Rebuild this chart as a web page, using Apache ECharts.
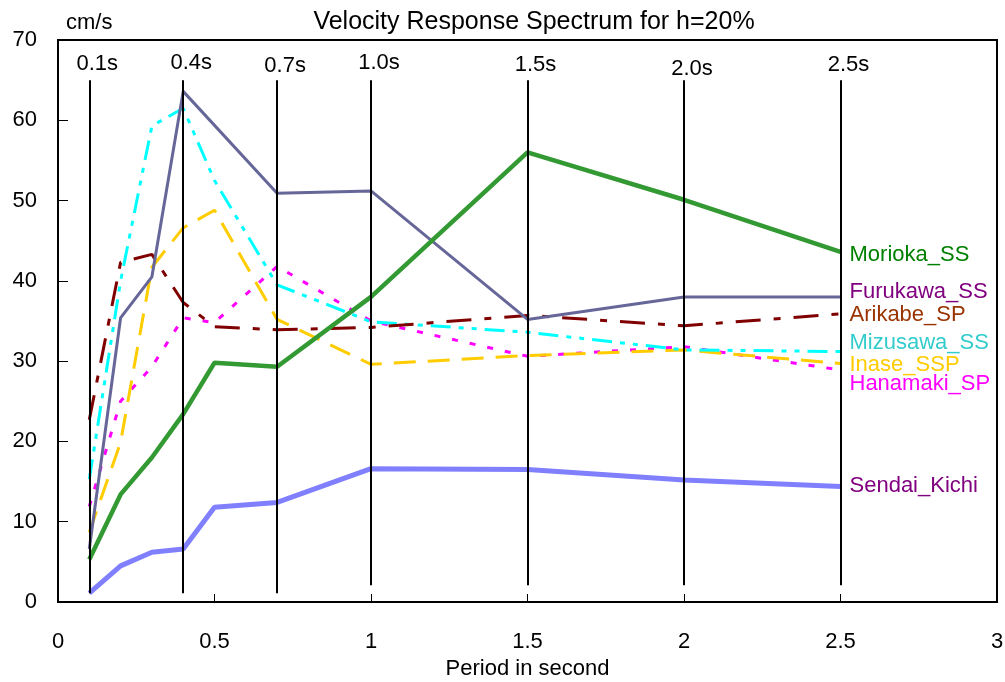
<!DOCTYPE html>
<html>
<head>
<meta charset="utf-8">
<title>Velocity Response Spectrum</title>
<script src="https://cdn.jsdelivr.net/npm/echarts@6/dist/echarts.min.js"></script>
<style>
  html, body { margin: 0; padding: 0; background: #fff; }
  #chart { width: 1005px; height: 682px; }
</style>
</head>
<body>
<div id="chart"></div>
<script>
// periods (s) shared by every station
const periods = [0.1, 0.2, 0.3, 0.4, 0.5, 0.7, 1.0, 1.5, 2.0, 2.5]

const morioka = [5.3, 13.4, 18.0, 23.4, 29.8, 29.3, 38.0, 56.0, 50.1, 43.6]
const furukawa = [6.6, 35.4, 40.5, 63.6, null, 50.9, 51.2, 35.2, 38.0, 38.0]
const arikabe = [22.7, 42.3, 43.3, 37.3, 34.3, 33.9, 34.2, 35.7, 34.4, 35.9]
const mizusawa = [15.3, 40.0, 59.3, 61.5, 52.5, 39.5, 34.9, 33.6, 31.4, 31.2]
const inase = [8.7, 19.9, 41.7, 46.6, 48.8, 35.2, 29.6, 30.7, 31.4, 29.7]
const hanamaki = [11.9, 25.0, 29.3, 35.4, 34.8, 41.8, 35.0, 30.6, 31.8, 28.9]
const sendai = [1.1, 4.5, 6.2, 6.6, 11.8, 12.4, 16.6, 16.5, 15.2, 14.4]

// vertical reference lines
const markPeriods = [0.1, 0.4, 0.7, 1.0, 1.5, 2.0, 2.5]
const markLabels = ['0.1s', '0.4s', '0.7s', '1.0s', '1.5s', '2.0s', '2.5s']
const markBottoms = [1.1, 1.1, 1.1, 2.1, 2.1, 2.1, 2.1]
const markTop = 65

const FONT = '"Liberation Sans", Arial, sans-serif'

const chart = echarts.init(document.getElementById('chart'), null, { renderer: 'canvas' })

function pairs(values) {
  return periods.map((p, i) => [p, values[i]])
}

function createSeries(name, values, color, width, dash, labelColor, labelOffset) {
  return {
    name: name,
    type: 'line',
    data: pairs(values),
    connectNulls: true,
    symbol: 'none',
    lineStyle: { color: color, width: width, type: dash },
    endLabel: {
      show: true,
      formatter: name,
      color: labelColor,
      fontSize: 22,
      fontFamily: FONT,
      distance: 9,
      offset: labelOffset,
    },
    z: 3,
  }
}

// gap between each "x.xs" label and the top of its line
const labelGaps = [5, 6, 3, 6, 4, 0, 4]

const option = {
  animation: false,
  backgroundColor: '#fff',
  textStyle: { fontFamily: FONT, color: '#000' },
  title: [
    {
      text: 'Velocity Response Spectrum for h=20%',
      left: 529,
      top: 5,
      textAlign: 'center',
      textStyle: { fontSize: 25, fontWeight: 'normal', color: '#000', fontFamily: FONT },
    },
    {
      text: 'cm/s',
      left: 61,
      top: 7,
      textStyle: { fontSize: 22, fontWeight: 'normal', color: '#000', fontFamily: FONT },
    },
  ],
  grid: {
    left: 58,
    right: 8,
    top: 40,
    bottom: 80,
    outerBoundsMode: 'none',
    show: true,
    borderColor: '#000',
    borderWidth: 2,
    backgroundColor: 'transparent',
  },
  xAxis: {
    type: 'value',
    min: 0,
    max: 3,
    interval: 0.5,
    name: 'Period in second',
    nameLocation: 'middle',
    nameGap: 56,
    nameTextStyle: { fontSize: 22, color: '#000' },
    axisLine: { lineStyle: { color: '#000', width: 2 } },
    axisTick: { inside: true, length: 8, lineStyle: { color: '#000', width: 1 } },
    axisLabel: { fontSize: 22, color: '#000', margin: 29 },
    splitLine: { show: false },
  },
  yAxis: {
    type: 'value',
    min: 0,
    max: 70,
    interval: 10,
    axisLine: { show: true, lineStyle: { color: '#000', width: 2 } },
    axisTick: { show: true, inside: true, length: 10, lineStyle: { color: '#000', width: 1 } },
    axisLabel: { fontSize: 22, color: '#000', margin: 21 },
    splitLine: { show: false },
  },
  series: [
    {
      name: 'marks',
      type: 'line',
      data: [],
      z: 5,
      markLine: {
        silent: true,
        symbol: 'none',
        animation: false,
        lineStyle: { color: '#000', width: 2, type: 'solid' },
        label: {
          show: true,
          position: 'start',
          fontSize: 22,
          color: '#000',
          fontFamily: FONT,
          formatter: p => p.name,
        },
        data: markPeriods.map((p, i) => [
          {
            name: markLabels[i],
            coord: [p, markTop],
            label: { distance: labelGaps[i], padding: [0, 0, 0, 16] },
          },
          { coord: [p, markBottoms[i]] },
        ]),
      },
    },
    createSeries('Sendai_Kichi', sendai, '#8080ff', 5, 'solid', '#800080', [0, 0]),
    createSeries('Hanamaki_SP', hanamaki, '#ff00ff', 3, [6, 12], '#ff00ff', [0, 14]),
    createSeries('Inase_SSP', inase, '#ffcc00', 3, [22, 12], '#ffcc00', [0, 1]),
    createSeries('Mizusawa_SS', mizusawa, '#00ffff', 3, [20, 8, 5, 8, 5, 8], '#33cccc', [0, -9]),
    createSeries('Arikabe_SP', arikabe, '#800000', 3, [25, 13, 7, 13], '#993300', [0, 1]),
    createSeries('Furukawa_SS', furukawa, '#666699', 3, 'solid', '#800080', [0, -5]),
    createSeries('Morioka_SS', morioka, '#339933', 4.5, 'solid', '#008000', [0, 3]),
  ],
}

chart.setOption(option)
window.addEventListener('resize', () => chart.resize())
</script>
</body>
</html>
